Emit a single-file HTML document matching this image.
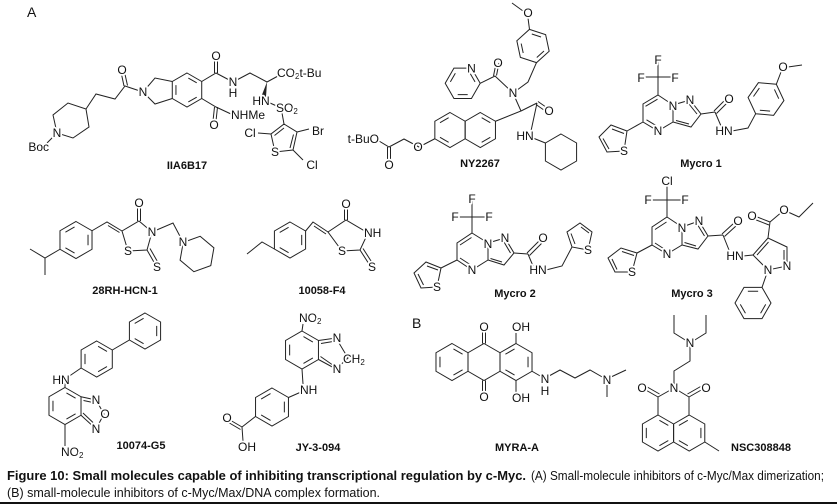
<!DOCTYPE html>
<html><head><meta charset="utf-8"><style>
html,body{margin:0;padding:0;background:#fff}
svg{display:block}
.b{fill:none;stroke:#222;stroke-width:1}
.b *{vector-effect:non-scaling-stroke}
.a{font-family:"Liberation Sans",sans-serif;font-size:12px;text-anchor:middle;dominant-baseline:central;fill:#111;stroke:#fff;stroke-width:3.5px;paint-order:stroke;stroke-linejoin:round}
.s{text-anchor:start}
.e{text-anchor:end}
.l{font-family:"Liberation Sans",sans-serif;font-weight:bold;font-size:11px;text-anchor:middle;fill:#111}
.h{font-family:"Liberation Sans",sans-serif;font-size:14px;fill:#111}
.c{font-family:"Liberation Sans",sans-serif;font-size:13px;fill:#111}
</style></head><body>
<svg width="837" height="504" viewBox="0 0 837 504" xmlns="http://www.w3.org/2000/svg">
<text class="h" x="27" y="17">A</text>
<text class="h" x="412" y="328">B</text>

<g class="b">
<!-- ===== IIA6B17 ===== -->
<polygon points="57,133 53,115 68,103 86,109 89,127 73,138"/>
<path d="M57,133L47,143M86,109L96,94L115,99L125,86L143,92M124,86L121,72M127.5,85.5L124.5,72"/>
<path d="M143,92L155,78L172.3,81.5M143,92L155,104L172.3,98.5"/>
<g transform="translate(187 90) scale(17)"><polygon points="0,-1 .866,-.5 .866,.5 0,1 -.866,.5 -.866,-.5"/><path d="M.078,-.705L.572,-.42M.572,.42L.078,.705M-.65,.285L-.65,-.285"/></g>
<path d="M201.7,81.5L216,73L233,82L250,73L267,82L278,76M214.5,73L214.5,59M217.5,73L217.5,59"/>
<path d="M270,103L279,107M282,113L284,124"/>
<polygon points="284,124 297,132 293,150 275,152 271,134"/>
<path d="M284,128L274.5,135.5M293.5,134.5L290,148M271,134L258,133M297,132L309,129M293,150L303,160"/>
<path d="M201.7,98.5L216,107L231,114M214.5,107L213,121M217.5,107L216,121"/>

<!-- ===== NY2267 ===== -->
<g transform="translate(462.7 83.3) rotate(90) scale(17.5)"><polygon points="0,-1 .866,-.5 .866,.5 0,1 -.866,.5 -.866,-.5"/><path d="M.65,-.285L.65,.285M-.078,.705L-.572,.42M-.572,-.42L-.078,-.705"/></g>
<path d="M480.2,83.3L495,76L513,93M493.5,76L496,63.5M496.5,75.5L499,63"/>
<path d="M513,93L528,82L536.5,62.6"/>
<g transform="translate(533 46) rotate(-12) scale(17)"><polygon points="0,-1 .866,-.5 .866,.5 0,1 -.866,.5 -.866,-.5"/><path d="M.078,-.705L.572,-.42M.572,.42L.078,.705M-.65,.285L-.65,-.285"/></g>
<path d="M529.5,29.4L528,18M523,11L512,3"/>
<path d="M513,93L521,111L495.5,121.25M521,111L537,103M536,104.5L546,111.5M538,101.5L548,108.5M537,103L531,131M533,138L545.4,143"/>
<g transform="translate(561 152) scale(18)"><polygon points="0,-1 .866,-.5 .866,.5 0,1 -.866,.5 -.866,-.5"/></g>
<g transform="translate(450 130) scale(17.5)"><polygon points="0,-1 .866,-.5 .866,.5 0,1 -.866,.5 -.866,-.5"/><path d="M-.572,-.42L-.078,-.705M-.078,.705L-.572,.42"/></g>
<g transform="translate(480.3 130) scale(17.5)"><polygon points="0,-1 .866,-.5 .866,.5 0,1 -.866,.5 -.866,-.5"/><path d="M.078,-.705L.572,-.42M.572,.42L.078,.705"/></g>
<path d="M434.8,138.75L419,147L404,139L389,147L379,141M387.5,147L387.5,161M390.5,147L390.5,161"/>

<!-- ===== Mycro 1 ===== -->
<path d="M658,77L658,62M658,77L643,77M658,77L673,77M658,77L658,95"/>
<polygon points="658,95 673,105 673,122 658,131 643,122 643,104"/>
<path d="M645.5,106.3L657.5,99.2M646.5,119.8L656.5,125.8"/>
<polygon points="673,105 690,100 701,114 691,127 673,122"/>
<path d="M689,104L697,114M689,124L676,120.5"/>
<path d="M701,114L715,112M714,111L725,100M716.5,113.5L727.5,102.5M715,112L721,126M732,131L748,128L755.7,113.7"/>
<g transform="translate(766 99) rotate(35) scale(18)"><polygon points="0,-1 .866,-.5 .866,.5 0,1 -.866,.5 -.866,-.5"/><path d="M.078,-.705L.572,-.42M.572,.42L.078,.705M-.65,.285L-.65,-.285"/></g>
<path d="M776.3,84.3L781,72M788,67L802,65"/>
<path d="M643,122L627,131"/>
<polygon points="627,131 611,125 599,137 607,152 624,151"/>
<path d="M624,133.5L612,129M603,138.5L609,149"/>

<!-- ===== 28RH-HCN-1 ===== -->
<g transform="translate(76 240) scale(18.5)"><polygon points="0,-1 .866,-.5 .866,.5 0,1 -.866,.5 -.866,-.5"/><path d="M.65,-.285L.65,.285M-.078,.705L-.572,.42M-.572,-.42L-.078,-.705"/></g>
<path d="M60,249.25L45,258L30,249M45,258L45,275"/>
<path d="M92,230.75L107,222L122,231M108,225.5L119.5,232.5"/>
<polygon points="122,231 139,221 152,232 147,250 128,251"/>
<path d="M137.5,221L137.5,207M140.5,221L140.5,207M147,250L155,264M150,248.5L158,262.5M152,232L173,223L183.2,242.4"/>
<g transform="translate(197 254) rotate(10) scale(18)"><polygon points="0,-1 .866,-.5 .866,.5 0,1 -.866,.5 -.866,-.5"/></g>

<!-- ===== 10058-F4 ===== -->
<g transform="translate(290 240) scale(18)"><polygon points="0,-1 .866,-.5 .866,.5 0,1 -.866,.5 -.866,-.5"/><path d="M.65,-.285L.65,.285M-.078,.705L-.572,.42M-.572,-.42L-.078,-.705"/></g>
<path d="M274.4,249L262,242L247,254"/>
<path d="M305.6,231L313,222L328,232M314,226L326,234"/>
<polygon points="328,232 346,220 368,233 360,250 342,251"/>
<path d="M344.5,220L344.5,208M347.5,220L347.5,208M360,250L369,264M363,248.5L372,262.5"/>

<!-- ===== Mycro 2 ===== -->
<path d="M472,217L472,201M472,217L457,217M472,217L487,217M472,217L472,233"/>
<polygon points="472,233 488,243 488,260 472,270 457,260 457,243"/>
<path d="M460,245L471.5,237.5M460,258L470,264.5"/>
<polygon points="488,243 505,238 514,253 504,265 488,260"/>
<path d="M504,242L510.5,253M502,262L490.5,258.5"/>
<path d="M514,253L528,254M527,253L539,241M529.5,255.5L541.5,243.5M528,254L533,266M546,270L562,266L572,247"/>
<polygon points="572,247 567,232 580,223 592,232 588,250"/>
<path d="M575,244L571,233.5M581,227L589,233"/>
<path d="M457,260L441,268"/>
<polygon points="441,268 426,262 414,273 421,288 437,287"/>
<path d="M438,270L427,266M418,274L423.5,285"/>

<!-- ===== Mycro 3 ===== -->
<path d="M667,200L667,186M667,200L651,200M667,200L683,200M667,200L667,217"/>
<polygon points="667,217 682,227 682,245 667,254 652,245 652,227"/>
<path d="M655,229.5L666.5,222M655,243L665,249.5"/>
<polygon points="682,227 699,221 708,236 698,249 682,245"/>
<path d="M698,225.5L704.5,236M696,246L684.5,242.5"/>
<path d="M708,236L723,235M722,234L734,223M724.5,236.5L736.5,225.5M723,235L729,250M743,256L753,255"/>
<polygon points="753,255 768,238 787,247 787,266 768,270"/>
<path d="M757,255L768.5,242M784,250L784,263"/>
<path d="M768,238L770,222M770,222L756,216.5M769,225L755,219.5M770,222L783,211M788,212L799,217L813,203"/>
<path d="M768,270L762,287.4"/>
<g transform="translate(753 303) rotate(30) scale(18)"><polygon points="0,-1 .866,-.5 .866,.5 0,1 -.866,.5 -.866,-.5"/><path d="M.65,-.285L.65,.285M-.078,.705L-.572,.42M-.572,-.42L-.078,-.705"/></g>
<path d="M652,245L637,253"/>
<polygon points="637,253 621,248 608,258 615,272 632,272"/>
<path d="M634,255.5L622,251.5M612,259L617,269.5"/>

<!-- ===== 10074-G5 ===== -->
<g transform="translate(145 331) scale(18)"><polygon points="0,-1 .866,-.5 .866,.5 0,1 -.866,.5 -.866,-.5"/><path d="M.65,-.285L.65,.285M-.078,.705L-.572,.42M-.572,-.42L-.078,-.705"/></g>
<g transform="translate(96.7 359) scale(18)"><polygon points="0,-1 .866,-.5 .866,.5 0,1 -.866,.5 -.866,-.5"/><path d="M.078,-.705L.572,-.42M.572,.42L.078,.705M-.65,.285L-.65,-.285"/></g>
<path d="M112.3,350L129.4,340M81.1,368L68,377M65,383L65,387.5"/>
<g transform="translate(65 406) scale(18.5)"><polygon points="0,-1 .866,-.5 .866,.5 0,1 -.866,.5 -.866,-.5"/><path d="M.078,-.705L.572,-.42M.572,.42L.078,.705M-.65,.285L-.65,-.285"/></g>
<path d="M81,396.75L96,400L104,414L96,429L81,415.25M83.5,400.5L93,402.5M83,413L93,422.5"/>
<path d="M65,424.5L65,446"/>

<!-- ===== JY-3-094 ===== -->
<g transform="translate(302 350) scale(19)"><polygon points="0,-1 .866,-.5 .866,.5 0,1 -.866,.5 -.866,-.5"/><path d="M.078,-.705L.572,-.42M.572,.42L.078,.705M-.65,.285L-.65,-.285"/></g>
<path d="M302,331L303,324M318.5,340.5L336,338L348,358L336,369L318.5,359.5M321,343.5L333,341.5M320.5,356.5L332,364.5"/>
<path d="M302,369L303,384M301,392L288.5,397.5"/>
<g transform="translate(272 407) scale(19)"><polygon points="0,-1 .866,-.5 .866,.5 0,1 -.866,.5 -.866,-.5"/><path d="M.65,-.285L.65,.285M-.078,.705L-.572,.42M-.572,-.42L-.078,-.705"/></g>
<path d="M255.5,416.5L242,427M242,427L230,420M240.5,429.5L228.5,422.5M242,427L243,441"/>

<!-- ===== MYRA-A ===== -->
<g transform="translate(452 362) scale(18.5)"><polygon points="0,-1 .866,-.5 .866,.5 0,1 -.866,.5 -.866,-.5"/><path d="M.078,-.705L.572,-.42M.572,.42L.078,.705M-.65,.285L-.65,-.285"/></g>
<g transform="translate(484 362) scale(18.5)"><polygon points="0,-1 .866,-.5 .866,.5 0,1 -.866,.5 -.866,-.5"/></g>
<g transform="translate(516 362) scale(18.5)"><polygon points="0,-1 .866,-.5 .866,.5 0,1 -.866,.5 -.866,-.5"/><path d="M.65,-.285L.65,.285M-.078,.705L-.572,.42M-.572,-.42L-.078,-.705"/></g>
<path d="M482.5,343.5L482.5,332M485.5,343.5L485.5,332M482.5,380.5L482.5,392M485.5,380.5L485.5,392"/>
<path d="M516,343.5L516,333M516,380.5L516,392M532,371.25L542,377"/>
<path d="M549,376L560,370L575,378L590,370L604,378M611,377L626,370M607,385L607,397"/>

<!-- ===== NSC308848 ===== -->
<path d="M690,343L674,333L674,315M690,343L706,333L706,315M690,343L690,361L674,371L674,388"/>
<path d="M674,388L658,397L658,415M658,397L644,389M659.5,394L645.5,386M674,388L689,397L689,415M689,397L703,389M687.5,394L701.5,386"/>
<g transform="translate(658 433) scale(18)"><polygon points="0,-1 .866,-.5 .866,.5 0,1 -.866,.5 -.866,-.5"/><path d="M.078,-.705L.572,-.42M.572,.42L.078,.705M-.65,.285L-.65,-.285"/></g>
<g transform="translate(689.2 433) scale(18)"><polygon points="0,-1 .866,-.5 .866,.5 0,1 -.866,.5 -.866,-.5"/><path d="M.65,-.285L.65,.285M-.078,.705L-.572,.42M-.572,-.42L-.078,-.705"/></g>
<path d="M704.8,442L719,451"/>
</g>
<polygon points="267,82 261.5,96 266,97" fill="#222"/>

<!-- ===== atom labels ===== -->
<!-- IIA6B17 -->
<text class="a e" x="49" y="147">Boc</text>
<text class="a" x="57" y="133">N</text>
<text class="a" x="122" y="70">O</text>
<text class="a" x="143" y="92">N</text>
<text class="a" x="216" y="56">O</text>
<text class="a" x="233" y="82">N</text>
<text class="a" x="233" y="93">H</text>
<text class="a s" x="277" y="73">CO<tspan font-size="8" dy="3">2</tspan><tspan dy="-3">t-Bu</tspan></text>
<text class="a" x="261" y="101">HN</text>
<text class="a s" x="276" y="108">SO<tspan font-size="8" dy="3">2</tspan></text>
<text class="a" x="250" y="133">Cl</text>
<text class="a" x="318" y="131">Br</text>
<text class="a" x="312" y="165">Cl</text>
<text class="a" x="275" y="152">S</text>
<text class="a" x="214" y="125">O</text>
<text class="a s" x="231" y="115">NHMe</text>
<!-- NY2267 -->
<text class="a" x="471.5" y="68.5">N</text>
<text class="a" x="498" y="63">O</text>
<text class="a" x="513" y="93">N</text>
<text class="a" x="528" y="13">O</text>
<text class="a" x="549" y="111">O</text>
<text class="a" x="525" y="136">HN</text>
<text class="a" x="418" y="147">O</text>
<text class="a" x="389" y="165">O</text>
<text class="a e" x="379" y="139">t-BuO</text>
<!-- Mycro 1 -->
<text class="a" x="658" y="60">F</text>
<text class="a" x="641" y="78">F</text>
<text class="a" x="675" y="78">F</text>
<text class="a" x="673" y="106">N</text>
<text class="a" x="690" y="100">N</text>
<text class="a" x="658" y="131">N</text>
<text class="a" x="624" y="151">S</text>
<text class="a" x="729" y="99">O</text>
<text class="a" x="724" y="131">HN</text>
<text class="a" x="783" y="67">O</text>
<!-- 28RH -->
<text class="a" x="139" y="203">O</text>
<text class="a" x="152" y="232">N</text>
<text class="a" x="128" y="251">S</text>
<text class="a" x="157" y="267">S</text>
<text class="a" x="183" y="242">N</text>
<!-- 10058 -->
<text class="a" x="346" y="204">O</text>
<text class="a s" x="364" y="233">NH</text>
<text class="a" x="342" y="251">S</text>
<text class="a" x="372" y="267">S</text>
<!-- Mycro 2 -->
<text class="a" x="472" y="199">F</text>
<text class="a" x="455" y="217">F</text>
<text class="a" x="489" y="217">F</text>
<text class="a" x="488" y="244">N</text>
<text class="a" x="505" y="238">N</text>
<text class="a" x="472" y="270">N</text>
<text class="a" x="543" y="238">O</text>
<text class="a" x="538" y="270">HN</text>
<text class="a" x="588" y="250">S</text>
<text class="a" x="437" y="287">S</text>
<!-- Mycro 3 -->
<text class="a" x="667" y="181">Cl</text>
<text class="a" x="648" y="200">F</text>
<text class="a" x="685" y="200">F</text>
<text class="a" x="682" y="228">N</text>
<text class="a" x="699" y="221">N</text>
<text class="a" x="667" y="254">N</text>
<text class="a" x="632" y="272">S</text>
<text class="a" x="738" y="221">O</text>
<text class="a" x="735" y="256">HN</text>
<text class="a" x="768" y="270">N</text>
<text class="a" x="787" y="266">N</text>
<text class="a" x="752" y="216">O</text>
<text class="a" x="784" y="210">O</text>
<!-- 10074 -->
<text class="a" x="61" y="380">HN</text>
<text class="a" x="96" y="400">N</text>
<text class="a" x="105" y="414">O</text>
<text class="a" x="96" y="429">N</text>
<text class="a s" x="61" y="452">NO<tspan font-size="8" dy="3">2</tspan></text>
<!-- JY -->
<text class="a s" x="299" y="318">NO<tspan font-size="8" dy="3">2</tspan></text>
<text class="a" x="337" y="338">N</text>
<text class="a s" x="343" y="359">CH<tspan font-size="8" dy="3">2</tspan></text>
<text class="a" x="337" y="369">N</text>
<text class="a s" x="300" y="390">NH</text>
<text class="a" x="227" y="418">O</text>
<text class="a" x="247" y="447">OH</text>
<!-- MYRA -->
<text class="a" x="484" y="327">O</text>
<text class="a" x="484" y="397">O</text>
<text class="a s" x="512" y="327">OH</text>
<text class="a s" x="512" y="398">OH</text>
<text class="a" x="545" y="379">N</text>
<text class="a" x="545" y="391">H</text>
<text class="a" x="607" y="380">N</text>
<!-- NSC -->
<text class="a" x="690" y="343">N</text>
<text class="a" x="674" y="388">N</text>
<text class="a" x="642" y="388">O</text>
<text class="a" x="706" y="388">O</text>

<!-- ===== compound names ===== -->
<text class="l" x="187" y="169">IIA6B17</text>
<text class="l" x="480" y="167">NY2267</text>
<text class="l" x="701" y="167">Mycro 1</text>
<text class="l" x="125" y="294">28RH-HCN-1</text>
<text class="l" x="322" y="294">10058-F4</text>
<text class="l" x="515" y="297">Mycro 2</text>
<text class="l" x="692" y="297">Mycro 3</text>
<text class="l" x="141" y="449">10074-G5</text>
<text class="l" x="318" y="451">JY-3-094</text>
<text class="l" x="517" y="451">MYRA-A</text>
<text class="l" x="761" y="451">NSC308848</text>

<!-- ===== caption ===== -->
<text class="c" x="7" y="480" font-weight="bold" textLength="519" lengthAdjust="spacingAndGlyphs">Figure 10: Small molecules capable of inhibiting transcriptional regulation by c-Myc.</text>
<text class="c" x="531" y="480" textLength="293" lengthAdjust="spacingAndGlyphs">(A) Small-molecule inhibitors of c-Myc/Max dimerization;</text>
<text class="c" x="7" y="497" textLength="373" lengthAdjust="spacingAndGlyphs">(B) small-molecule inhibitors of c-Myc/Max/DNA complex formation.</text>
<rect x="0" y="502" width="837" height="2" fill="#111"/>
</svg>
</body></html>
